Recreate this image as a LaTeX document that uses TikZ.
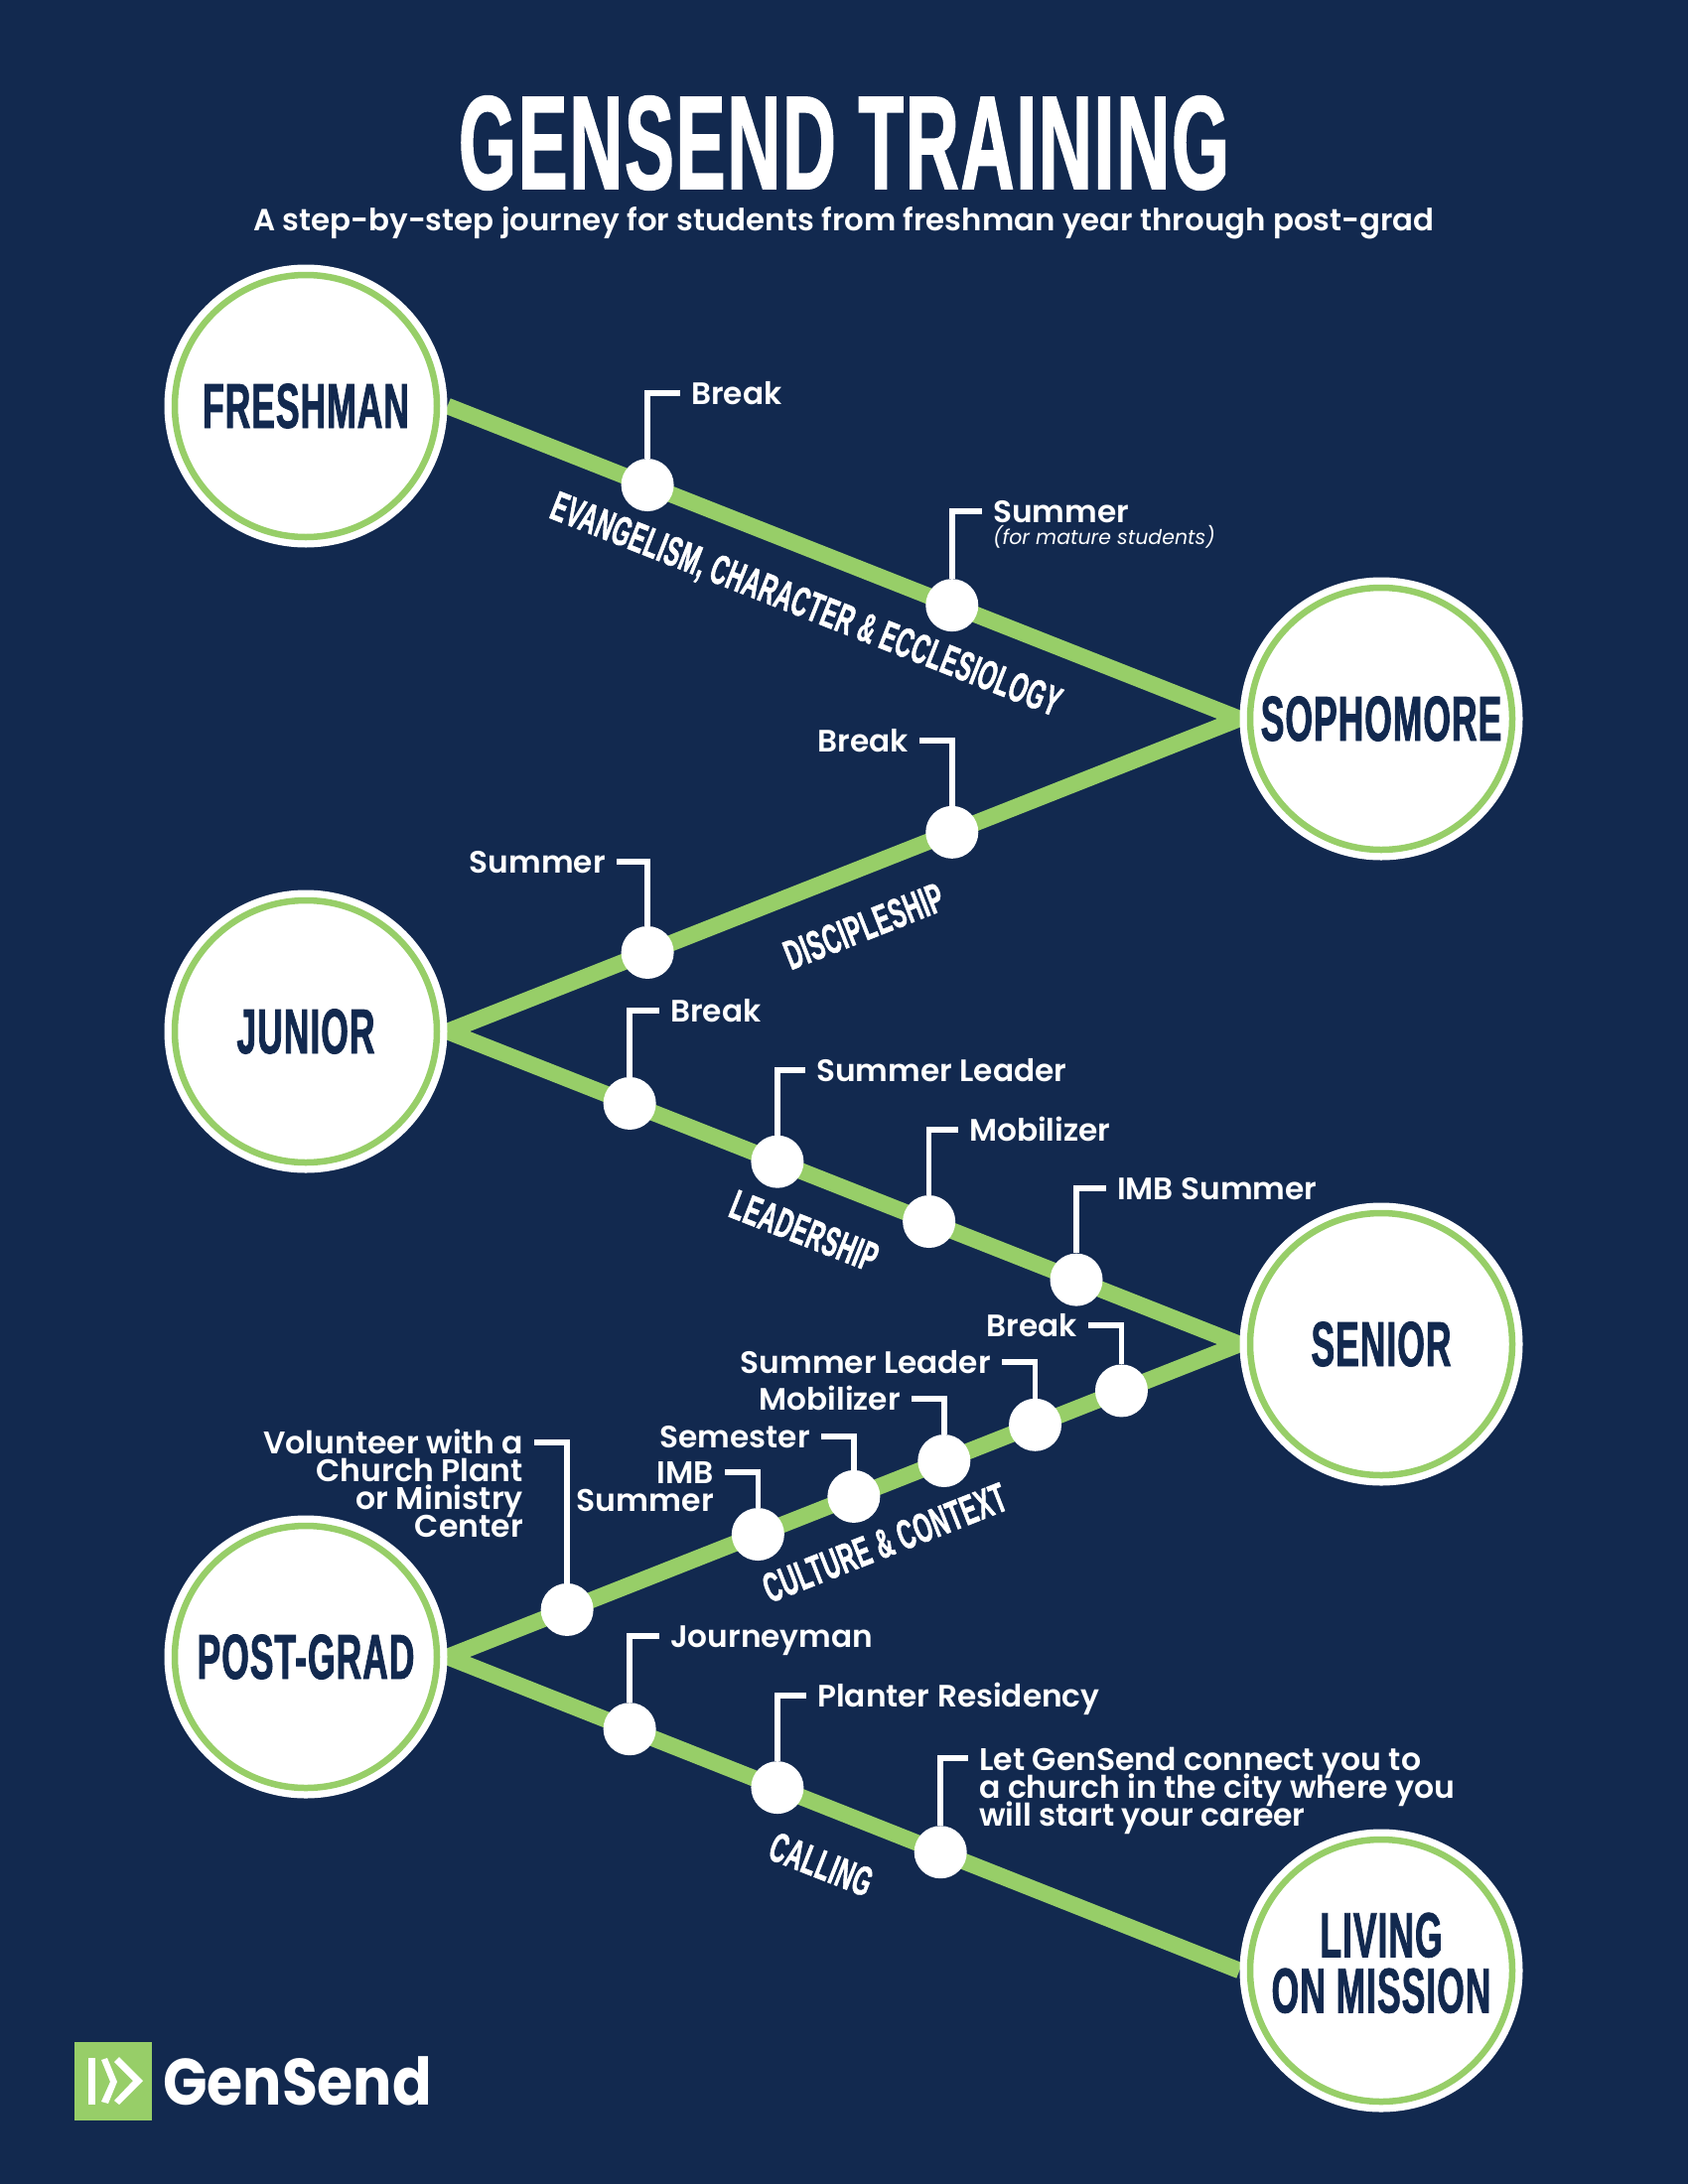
\documentclass[tikz,border=0pt]{standalone}
\usepackage{fontspec}
\setmainfont{Poppins}[BoldFont={Poppins SemiBold}]
\newfontfamily\headfont{Liberation Sans}[FakeStretch=.555,FakeBold=1.2,LetterSpace=1.5]
\newfontfamily\brandfont{Poppins}[BoldFont={Poppins Bold},FakeStretch=.885]
\usetikzlibrary{positioning, calc, backgrounds}
\definecolor{navy}{HTML}{12294F}
\definecolor{leaf}{HTML}{97CE68}

\begin{document}
\begin{tikzpicture}[x=1pt,y=-1pt]
		% Define styles
		\tikzset{
			year/.style={circle, fill=white, minimum size=285, inner sep=0pt, align=center, text=navy,
				font=\headfont\bfseries\fontsize{64}{56}\selectfont,
				path picture={\draw[leaf, line width=6.5] (path picture bounding box.center) circle (132);}},
			stop/.style={circle, fill=white, minimum size=53, inner sep=0pt},
			line/.style={draw=leaf, line width=16.5},
			leader/.style={draw=white, line width=5.5},
			tag/.style={text=white, inner xsep=11pt, inner ysep=0pt, text height=22pt, text depth=0pt,
				font=\bfseries\fontsize{31.2}{28}\selectfont},
			tagm/.style={text=white, inner xsep=11pt, inner ysep=0pt,
				font=\bfseries\fontsize{31.5}{28}\selectfont,
				execute at begin node={\lineskiplimit=-100pt\relax}},
			track/.style={text=white, font=\headfont\bfseries\fontsize{42}{42}\selectfont}
		}
		\useasboundingbox (0,0) rectangle (1700,2200);

		% Title
		\node[text=white, font=\headfont\bfseries\fontsize{134}{134}\selectfont] (title) at (850,144) {GENSEND TRAINING};
		\node[text=white, font=\bfseries\fontsize{30.85}{30}\selectfont] (sub) at (850,225) {A step-by-step journey for students from freshman year through post-grad};

		% Years
		\node[year] (fresh) at (308,409) {FRESHMAN};
		\node[year] (soph) at (1391,724) {SOPHOMORE};
		\node[year] (jun) at (308,1039) {JUNIOR};
		\node[year] (sen) at (1391,1354) {SENIOR};
		\node[year] (post) at (308,1669) {POST-GRAD};
		\node[year] (live) at (1391,1985) {LIVING\\ON MISSION\rule[-16pt]{0pt}{0pt}};

		% Stops
		\node[stop] (a1) at ($(fresh.east)!.2525!(soph.west)$) {};
		\node[stop] (a2) at ($(fresh.east)!.637!(soph.west)$) {};
		\node[stop] (b1) at ($(jun.east)!.637!(soph.west)$) {};
		\node[stop] (b2) at ($(jun.east)!.2525!(soph.west)$) {};
		\node[stop] (c1) at ($(jun.east)!.230!(sen.west)$) {};
		\node[stop] (c2) at ($(jun.east)!.4165!(sen.west)$) {};
		\node[stop] (c3) at ($(jun.east)!.608!(sen.west)$) {};
		\node[stop] (c4) at ($(jun.east)!.794!(sen.west)$) {};
		\node[stop] (d1) at ($(post.east)!.851!(sen.west)$) {};
		\node[stop] (d2) at ($(post.east)!.742!(sen.west)$) {};
		\node[stop] (d3) at ($(post.east)!.627!(sen.west)$) {};
		\node[stop] (d4) at ($(post.east)!.513!(sen.west)$) {};
		\node[stop] (d5) at ($(post.east)!.392!(sen.west)$) {};
		\node[stop] (d6) at ($(post.east)!.151!(sen.west)$) {};
		\node[stop] (e1) at ($(post.east)!.230!(live.west)$) {};
		\node[stop] (e2) at ($(post.east)!.4165!(live.west)$) {};
		\node[stop] (e3) at ($(post.east)!.6225!(live.west)$) {};

		% Tags
		\node[tag, anchor=west] (ta1) at (685,396) {Break};
		\node[tag, anchor=west] (ta2) at (989,515) {Summer};
		\node[text=white, anchor=west, inner sep=0pt, font=\itshape\fontsize{20.5}{20}\selectfont] (ta2b) at (1000,541) {(for mature students)};
		\node[tag, anchor=east] (tb1) at (926,746) {Break};
		\node[tag, anchor=east] (tb2) at (621,868) {Summer};
		\node[tag, anchor=west] (tc1) at (664,1018) {Break};
		\node[tag, anchor=west] (tc2) at (811,1078) {Summer Leader};
		\node[tag, anchor=west] (tc3) at (965,1138) {Mobilizer};
		\node[tag, anchor=west] (tc4) at (1114,1197) {IMB Summer};
		\node[tag, anchor=east] (td1) at (1096,1335) {Break};
		\node[tag, anchor=east] (td2) at (1009,1372) {Summer Leader};
		\node[tag, anchor=east] (td3) at (918,1409) {Mobilizer};
		\node[tag, anchor=east] (td4) at (827,1447) {Semester};
		\node[tagm, anchor=north east, align=right] (td5) at (730,1472) {IMB\\Summer};
		\node[tagm, anchor=north east, align=right] (td6) at (538,1440) {Volunteer with a\\Church Plant\\or Ministry\\Center};
		\node[tag, anchor=west] (te1) at (664,1648) {Journeyman};
		\node[tag, anchor=west] (te2) at (812,1708) {Planter Residency};
		\node[tagm, anchor=north west, align=left] (te3) at (975,1760) {Let GenSend connect you to\\a church in the city where you\\will start your career};

		% Tracks
		\node[track, rotate=-21.5] (tr1) at (811,611) {EVANGELISM, CHARACTER \& ECCLESIOLOGY};
		\node[track, rotate=21.5] (tr2) at (870,933) {DISCIPLESHIP};
		\node[track, rotate=-21.5] (tr3) at (810,1240) {LEADERSHIP};
		\node[track, rotate=21.5] (tr4) at (891,1554) {CULTURE \& CONTEXT};
		\node[track, rotate=-21.5] (tr5) at (827,1878) {CALLING};

		% Logo
		\node[fill=leaf, minimum width=78, minimum height=79, inner sep=0pt] (logo) at (114,2096.5) {};
		\node[text=white, anchor=west, inner sep=0pt, font=\brandfont\bfseries\fontsize{66}{66}\selectfont] (brand) at (164,2096) {GenSend};
		\fill[white] (89,2073) rectangle (96,2120);
		\fill[white] (102,2075) -- (108,2073) -- (118,2097) -- (109,2119) -- (102,2117) -- (111,2097) -- cycle;
		\fill[white] (115,2077) -- (120,2072) -- (144,2096) -- (120,2120) -- (115,2116) -- (134,2096) -- cycle;

		% Lines
		\begin{scope}[on background layer]
			\fill[navy] (0,0) rectangle (1700,2200);
			\draw[line] (fresh.east) -- (soph.west) -- (jun.east) -- (sen.west) -- (post.east) -- (live.west);
		\end{scope}
		\draw[leader] (a1.north) |- (ta1.west);
		\draw[leader] (a2.north) |- (ta2.west);
		\draw[leader] (b1.north) |- (tb1.east);
		\draw[leader] (b2.north) |- (tb2.east);
		\draw[leader] (c1.north) |- (tc1.west);
		\draw[leader] (c2.north) |- (tc2.west);
		\draw[leader] (c3.north) |- (tc3.west);
		\draw[leader] (c4.north) |- (tc4.west);
		\draw[leader] (d1.north) |- (td1.east);
		\draw[leader] (d2.north) |- (td2.east);
		\draw[leader] (d3.north) |- (td3.east);
		\draw[leader] (d4.north) |- (td4.east);
		\draw[leader] (d5.north) |- ([yshift=-11pt]td5.north east);
		\draw[leader] (d6.north) |- ([yshift=-13pt]td6.north east);
		\draw[leader] (e1.north) |- (te1.west);
		\draw[leader] (e2.north) |- (te2.west);
		\draw[leader] (e3.north) |- ([yshift=-11pt]te3.north west);
	\end{tikzpicture}
\end{document}
